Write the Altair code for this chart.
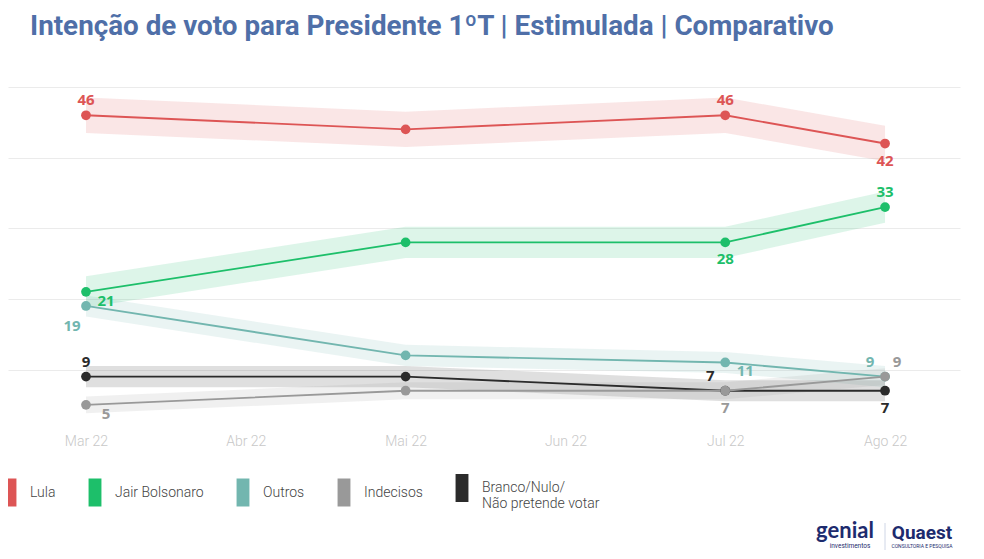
import json
import altair as alt
import pandas as pd

# ---------------- data ----------------
months = ["Mar 22", "Abr 22", "Mai 22", "Jun 22", "Jul 22", "Ago 22"]
wave_month = [0, 2, 4, 5]          # index into months for each survey wave

series_names = ["Lula", "Jair Bolsonaro", "Outros", "Indecisos",
                "Branco/Nulo/ Não pretende votar"]
series_colors = ["#dd5555", "#1dbf6a", "#72b6af", "#999999", "#2b2b2b"]

lula = [46, 44, 46, 42]
bolsonaro = [21, 28, 28, 33]
outros = [19, 12, 11, 9]
indecisos = [5, 7, 7, 9]
branco = [9, 9, 7, 7]

# half width of the shaded band around each series (points)
band_half = [2.5, 2.2, 1.5, 1.2, 1.5]

# where each value label sits relative to its point ("" = no label)
lula_lbl = ["above", "", "above", "below"]
bolsonaro_lbl = ["right_below", "", "below", "above"]
outros_lbl = ["left_below", "", "right_below", "left_above"]
indecisos_lbl = ["right_below", "", "below", "right_above"]
branco_lbl = ["above", "", "left_above", "below"]

# ---------------- table ----------------
values = {"Lula": lula, "Jair Bolsonaro": bolsonaro, "Outros": outros,
          "Indecisos": indecisos, "Branco/Nulo/ Não pretende votar": branco}
labels = {"Lula": lula_lbl, "Jair Bolsonaro": bolsonaro_lbl, "Outros": outros_lbl,
          "Indecisos": indecisos_lbl, "Branco/Nulo/ Não pretende votar": branco_lbl}
halfs = dict(zip(series_names, band_half))
draw_order = ["Lula", "Jair Bolsonaro", "Outros",
              "Branco/Nulo/ Não pretende votar", "Indecisos"]

rows = []
for s in draw_order:
    for i, m in enumerate(wave_month):
        v = values[s][i]
        rows.append({"serie": s, "m": m, "v": v,
                     "lo": v - halfs[s], "hi": v + halfs[s],
                     "place": labels[s][i], "txt": str(v)})
df = pd.DataFrame(rows)

# ---------------- encodings ----------------
color = alt.Color(
    "serie:N",
    scale=alt.Scale(domain=series_names, range=series_colors),
    legend=alt.Legend(
        title=None, orient="none", direction="horizontal",
        legendX=-12, legendY=387, padding=0,
        symbolType="M-0.46,-1L0.46,-1L0.46,1L-0.46,1Z", symbolSize=784,
        symbolStrokeWidth=0, symbolOpacity=1,
        labelFont="Roboto", labelFontSize=14, labelFontWeight=300,
        labelColor="#444444", labelOffset=6, columnPadding=25,
        labelLimit=300,
        labelExpr="indexof(datum.label, 'Branco') == 0 ? ['Branco/Nulo/', 'Não pretende votar'] : datum.label",
    ),
)

label_expr = json.dumps(months) + "[datum.value]"
x = alt.X("m:Q",
          scale=alt.Scale(domain=[-0.488, 5.469], nice=False, zero=False),
          axis=alt.Axis(values=list(range(len(months))), labelExpr=label_expr,
                        grid=False, domain=False, ticks=False, tickSize=0,
                        labelPadding=15, labelFontSize=14, labelFont="Roboto",
                        labelFontWeight=300, labelColor="#c8c8c8", title=None))
y = alt.Y("v:Q",
          scale=alt.Scale(domain=[3, 50], nice=False, zero=False),
          axis=alt.Axis(values=[10, 20, 30, 40, 50], labels=False, ticks=False,
                        domain=False, grid=True, gridColor="#ebebeb",
                        gridWidth=1, title=None))

base = alt.Chart(df)

bands = base.mark_area(opacity=0.15, clip=False).encode(
    x=x, y=alt.Y("lo:Q"), y2="hi:Q", color=color)
lines = base.mark_line(strokeWidth=1.8).encode(x=x, y=y, color=color)
points = base.mark_circle(size=95, opacity=1).encode(x=x, y=y, color=color)

offsets = {"above": (0, -15), "below": (0, 17), "right_below": (20, 9),
           "left_below": (-14, 20), "left_above": (-15, -15),
           "right_above": (12, -15)}
text_layers = []
for p, (dx, dy) in offsets.items():
    text_layers.append(
        base.transform_filter(alt.datum.place == p)
        .mark_text(dx=dx, dy=dy, fontSize=15, fontWeight="bold",
                   font="Open Sans")
        .encode(x=x, y=y, text="txt:N", color=color)
    )

# logos (decoration, as text)
logo_df = pd.DataFrame({"a": ["genial"], "b": ["investimentos"],
                        "c": ["Quaest"], "d": ["CONSULTORIA E PESQUISA"]})
logo = alt.Chart(logo_df)
logo_layers = [
    logo.mark_text(fontSize=22, font="Lato", fontWeight="bold", color="#1d2b6e",
                   align="center", baseline="alphabetic")
        .encode(x=alt.value(837), y=alt.value(451), text="a:N"),
    logo.mark_text(fontSize=6.5, font="Roboto", color="#1d2b6e", align="center")
        .encode(x=alt.value(842), y=alt.value(459), text="b:N"),
    logo.mark_rule(color="#cfd6e6", strokeWidth=1)
        .encode(x=alt.value(877), y=alt.value(436), y2=alt.value(463)),
    logo.mark_text(fontSize=19, font="Roboto", fontWeight="bold", color="#1d2b6e",
                   align="center", baseline="alphabetic")
        .encode(x=alt.value(914), y=alt.value(452), text="c:N"),
    logo.mark_text(fontSize=5, font="Roboto", color="#1d2b6e", align="center")
        .encode(x=alt.value(914), y=alt.value(459), text="d:N"),
]

chart = alt.layer(bands, lines, points, *text_layers, *logo_layers).properties(
    width=952, height=332,
    background="white",
    autosize=alt.AutoSizeParams(type="none"),
    padding={"left": 0, "top": 79, "right": 16, "bottom": 132},
    title=alt.TitleParams(
        text="Intenção de voto para Presidente 1ºT | Estimulada | Comparativo",
        anchor="start", dx=34, offset=24, baseline="alphabetic",
        font="Roboto", fontSize=27.8, fontWeight="bold", color="#4f6fa8"),
).configure_view(stroke=None)

chart.save("out.html", embed_options={"renderer": "svg", "actions": False})
